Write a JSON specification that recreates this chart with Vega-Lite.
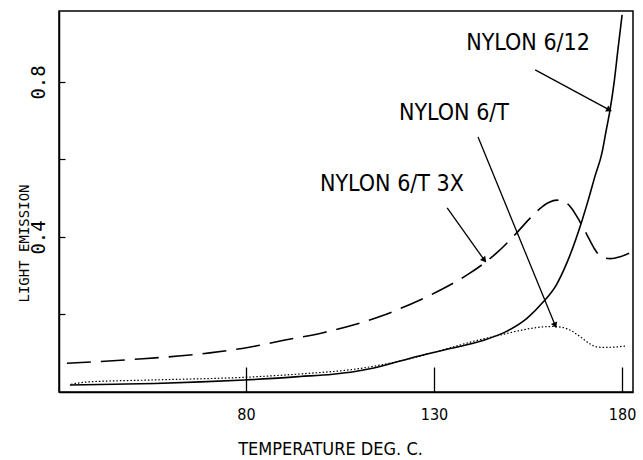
{
  "$schema": "https://vega.github.io/schema/vega-lite/v6.json",
  "autosize": "none",
  "width": 574,
  "height": 381,
  "padding": {"left": 59, "top": 11, "right": 10, "bottom": 68},
  "background": "white",
  "config": {
    "view": {"stroke": "black", "strokeWidth": 1.5},
    "axis": {"grid": false, "domainColor": "black", "domainWidth": 1.5, "tickColor": "black", "labelColor": "black", "titleColor": "black", "titleFontWeight": "normal"}
  },
  "datasets": {
    "curves": [
      {"series": "NYLON 6/12", "T": 33.2, "v": 0.018},
      {"series": "NYLON 6/12", "T": 45, "v": 0.02},
      {"series": "NYLON 6/12", "T": 55.8, "v": 0.022},
      {"series": "NYLON 6/12", "T": 68, "v": 0.026},
      {"series": "NYLON 6/12", "T": 79.7, "v": 0.031},
      {"series": "NYLON 6/12", "T": 94.4, "v": 0.04},
      {"series": "NYLON 6/12", "T": 103.1, "v": 0.046},
      {"series": "NYLON 6/12", "T": 109, "v": 0.053},
      {"series": "NYLON 6/12", "T": 114, "v": 0.062},
      {"series": "NYLON 6/12", "T": 121, "v": 0.08},
      {"series": "NYLON 6/12", "T": 128.1, "v": 0.098},
      {"series": "NYLON 6/12", "T": 134.3, "v": 0.112},
      {"series": "NYLON 6/12", "T": 143, "v": 0.133},
      {"series": "NYLON 6/12", "T": 149.4, "v": 0.157},
      {"series": "NYLON 6/12", "T": 154.7, "v": 0.19},
      {"series": "NYLON 6/12", "T": 159, "v": 0.232},
      {"series": "NYLON 6/12", "T": 162.5, "v": 0.276},
      {"series": "NYLON 6/12", "T": 165.4, "v": 0.335},
      {"series": "NYLON 6/12", "T": 169.4, "v": 0.444},
      {"series": "NYLON 6/12", "T": 171.0, "v": 0.495},
      {"series": "NYLON 6/12", "T": 172.8, "v": 0.557},
      {"series": "NYLON 6/12", "T": 174.7, "v": 0.619},
      {"series": "NYLON 6/12", "T": 175.7, "v": 0.671},
      {"series": "NYLON 6/12", "T": 176.8, "v": 0.728},
      {"series": "NYLON 6/12", "T": 177.9, "v": 0.8},
      {"series": "NYLON 6/12", "T": 178.9, "v": 0.884},
      {"series": "NYLON 6/12", "T": 180, "v": 0.973},
      {"series": "NYLON 6/T", "T": 33.5, "v": 0.02},
      {"series": "NYLON 6/T", "T": 38, "v": 0.026},
      {"series": "NYLON 6/T", "T": 55, "v": 0.031},
      {"series": "NYLON 6/T", "T": 79.7, "v": 0.038},
      {"series": "NYLON 6/T", "T": 95, "v": 0.047},
      {"series": "NYLON 6/T", "T": 109, "v": 0.059},
      {"series": "NYLON 6/T", "T": 121, "v": 0.08},
      {"series": "NYLON 6/T", "T": 128, "v": 0.097},
      {"series": "NYLON 6/T", "T": 134.3, "v": 0.114},
      {"series": "NYLON 6/T", "T": 141, "v": 0.132},
      {"series": "NYLON 6/T", "T": 147.6, "v": 0.147},
      {"series": "NYLON 6/T", "T": 153, "v": 0.159},
      {"series": "NYLON 6/T", "T": 156.3, "v": 0.165},
      {"series": "NYLON 6/T", "T": 159, "v": 0.168},
      {"series": "NYLON 6/T", "T": 161.6, "v": 0.169},
      {"series": "NYLON 6/T", "T": 164, "v": 0.167},
      {"series": "NYLON 6/T", "T": 166.5, "v": 0.158},
      {"series": "NYLON 6/T", "T": 168.8, "v": 0.143},
      {"series": "NYLON 6/T", "T": 171.5, "v": 0.124},
      {"series": "NYLON 6/T", "T": 173, "v": 0.117},
      {"series": "NYLON 6/T", "T": 175, "v": 0.115},
      {"series": "NYLON 6/T", "T": 178, "v": 0.116},
      {"series": "NYLON 6/T", "T": 181.3, "v": 0.119},
      {"series": "NYLON 6/T 3X", "T": 32.4, "v": 0.074},
      {"series": "NYLON 6/T 3X", "T": 49.9, "v": 0.084},
      {"series": "NYLON 6/T 3X", "T": 70.4, "v": 0.101},
      {"series": "NYLON 6/T 3X", "T": 80.5, "v": 0.115},
      {"series": "NYLON 6/T 3X", "T": 90.4, "v": 0.134},
      {"series": "NYLON 6/T 3X", "T": 100.5, "v": 0.153},
      {"series": "NYLON 6/T 3X", "T": 109, "v": 0.174},
      {"series": "NYLON 6/T 3X", "T": 116, "v": 0.196},
      {"series": "NYLON 6/T 3X", "T": 123.6, "v": 0.226},
      {"series": "NYLON 6/T 3X", "T": 132.1, "v": 0.265},
      {"series": "NYLON 6/T 3X", "T": 138.8, "v": 0.302},
      {"series": "NYLON 6/T 3X", "T": 143, "v": 0.33},
      {"series": "NYLON 6/T 3X", "T": 146.8, "v": 0.36},
      {"series": "NYLON 6/T 3X", "T": 150.5, "v": 0.395},
      {"series": "NYLON 6/T 3X", "T": 155.5, "v": 0.448},
      {"series": "NYLON 6/T 3X", "T": 158, "v": 0.472},
      {"series": "NYLON 6/T 3X", "T": 160.5, "v": 0.489},
      {"series": "NYLON 6/T 3X", "T": 162.7, "v": 0.495},
      {"series": "NYLON 6/T 3X", "T": 164.3, "v": 0.493},
      {"series": "NYLON 6/T 3X", "T": 166.5, "v": 0.475},
      {"series": "NYLON 6/T 3X", "T": 168.8, "v": 0.439},
      {"series": "NYLON 6/T 3X", "T": 170.7, "v": 0.405},
      {"series": "NYLON 6/T 3X", "T": 172.5, "v": 0.372},
      {"series": "NYLON 6/T 3X", "T": 174.1, "v": 0.352},
      {"series": "NYLON 6/T 3X", "T": 176.8, "v": 0.344},
      {"series": "NYLON 6/T 3X", "T": 179.5, "v": 0.349},
      {"series": "NYLON 6/T 3X", "T": 182.1, "v": 0.359}
    ],
    "labels": [
      {"label": "NYLON 6/12", "T": 155.0, "v": 0.901},
      {"label": "NYLON 6/T", "T": 135.3, "v": 0.72},
      {"label": "NYLON 6/T 3X", "T": 118.8, "v": 0.537}
    ],
    "arrows": [
      {"label": "NYLON 6/12", "T": 156.9, "v": 0.831, "T2": 176.6, "v2": 0.728},
      {"label": "NYLON 6/T", "T": 141.7, "v": 0.658, "T2": 162.2, "v2": 0.172},
      {"label": "NYLON 6/T 3X", "T": 133.5, "v": 0.475, "T2": 143.4, "v2": 0.34}
    ]
  },
  "encoding": {
    "x": {
      "field": "T", "type": "quantitative",
      "scale": {"domain": [30.3, 182.9], "nice": false, "zero": false},
      "axis": {
        "title": "TEMPERATURE DEG. C.",
        "values": [80, 130, 180],
        "tickSize": -25, "tickWidth": 1.3,
        "labelPadding": 39, "labelBaseline": "top", "labelFlush": false,
        "labelFont": "Liberation Sans Narrow, DejaVu Sans Condensed, sans-serif", "labelFontSize": 16,
        "titleFont": "Liberation Sans Narrow, DejaVu Sans Condensed, sans-serif", "titleFontSize": 18,
        "titleX": 271, "titleY": 62, "titleAlign": "center", "titleBaseline": "alphabetic"
      }
    },
    "y": {
      "field": "v", "type": "quantitative",
      "scale": {"domain": [0, 0.983], "nice": false},
      "axis": {
        "title": "LIGHT EMISSION",
        "values": [0.2, 0.4, 0.6, 0.8],
        "labelExpr": "datum.value == 0.4 || datum.value == 0.8 ? format(datum.value, '.1f') : ''",
        "tickSize": -6, "tickWidth": 1.2,
        "labelAngle": 270, "labelAlign": "center", "labelBaseline": "bottom", "labelPadding": 17,
        "labelFont": "DejaVu Sans Mono, monospace", "labelFontSize": 19,
        "titleFont": "DejaVu Sans Mono, monospace", "titleFontSize": 14,
        "titleAngle": 270, "titleX": -31, "titleY": 232, "titleAlign": "center", "titleBaseline": "alphabetic"
      }
    }
  },
  "layer": [
    {
      "data": {"name": "curves"},
      "transform": [{"filter": "datum.series == 'NYLON 6/T 3X'"}],
      "mark": {"type": "line", "color": "black", "strokeWidth": 1.6, "strokeDash": [24, 10], "interpolate": "monotone"}
    },
    {
      "data": {"name": "curves"},
      "transform": [{"filter": "datum.series == 'NYLON 6/12'"}],
      "mark": {"type": "line", "color": "black", "strokeWidth": 1.6, "interpolate": "monotone"}
    },
    {
      "data": {"name": "curves"},
      "transform": [{"filter": "datum.series == 'NYLON 6/T'"}],
      "mark": {"type": "line", "color": "black", "strokeWidth": 1.2, "strokeDash": [1.5, 2], "interpolate": "monotone"}
    },
    {
      "data": {"name": "arrows"},
      "mark": {"type": "rule", "color": "black", "strokeWidth": 1.3},
      "encoding": {
        "x2": {"field": "T2"},
        "y2": {"field": "v2"}
      }
    },
    {
      "data": {"name": "arrows"},
      "mark": {"type": "point", "shape": "triangle-right", "filled": true, "color": "black", "size": 45, "opacity": 1},
      "encoding": {
        "x": {"field": "T2", "type": "quantitative"},
        "y": {"field": "v2", "type": "quantitative"},
        "angle": {
          "condition": [
            {"test": "datum.label == 'NYLON 6/12'", "value": 28},
            {"test": "datum.label == 'NYLON 6/T'", "value": 68}
          ],
          "value": 51
        }
      }
    },
    {
      "data": {"name": "labels"},
      "mark": {"type": "text", "color": "black", "font": "Liberation Sans Narrow, DejaVu Sans Condensed, sans-serif", "fontSize": 23, "align": "center", "baseline": "middle"},
      "encoding": {
        "text": {"field": "label"}
      }
    }
  ]
}
